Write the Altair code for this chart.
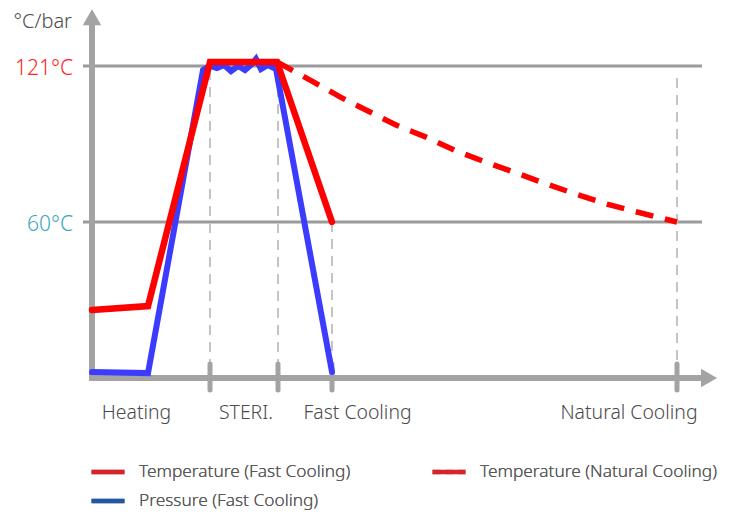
import altair as alt
import pandas as pd

# ---------------- data (time in arbitrary units, value in °C / bar-scaled) ----------------
phase_names = ["Heating", "STERI.", "Fast Cooling", "Natural Cooling"]
phase_label_t = [4.45, 15.4, 26.55, 53.7]
phase_end_t = [11.8, 18.6, 24.0, 58.5]
phase_guide_top = [119.4, 119.4, 60.0, 116.3]

temp_fast_t = [0.0, 5.6, 11.8, 18.5, 24.0]
temp_fast_v = [25.6, 27.1, 122.6, 122.6, 60.0]

pres_t = [0.0, 5.6, 11.1, 11.8, 12.5, 13.2, 13.9, 14.6, 15.3, 16.0, 16.4, 16.9, 17.6, 18.4, 24.0]
pres_v = [1.3, 0.9, 119.4, 121.0, 120.2, 121.4, 119.0, 121.0, 119.4, 121.8, 123.7, 119.8, 121.4, 119.8, 1.3]

nat_t = [18.5, 22.0, 24.8, 27.6, 30.4, 33.4, 36.4, 39.3, 42.4, 45.4, 48.4, 51.5, 54.5, 58.5]
nat_v = [122.6, 115.1, 108.9, 103.4, 97.9, 93.2, 87.8, 83.5, 79.2, 74.9, 70.9, 67.0, 63.9, 60.0]

levels = [121, 60]
level_labels = ["121°C", "60°C"]
level_colors = ["#ff2222", "#3aa6bb"]

# legend entries (laid out column by column)
series_order = ["Temperature (Fast Cooling)", "Pressure (Fast Cooling)", "Temperature (Natural Cooling)"]
legend_colors = ["#d9232a", "#1f56a8", "#d9232a"]
legend_dashes = [[1, 0], [1, 0], [8, 4.5]]

# ---------------- frames ----------------
def series_df(name, ts, vs):
    return pd.DataFrame({"series": name, "t": ts, "v": vs, "o": list(range(len(ts)))})

df_tf = series_df("Temperature (Fast Cooling)", temp_fast_t, temp_fast_v)
df_tn = series_df("Temperature (Natural Cooling)", nat_t, nat_v)
df_p = series_df("Pressure (Fast Cooling)", pres_t, pres_v)

# legend-only carrier: points outside the x domain, clipped away
df_leg = pd.DataFrame({"series": [s for s in series_order for _ in range(2)],
                       "t": [100.0, 101.0] * 3, "v": [0.0, 0.0] * 3})

df_phase = pd.DataFrame({"name": phase_names, "lt": phase_label_t, "t": phase_end_t,
                         "top": phase_guide_top})
df_phase["bottom"] = -1.0
df_phase["tk0"] = 4.5
df_phase["tk1"] = -5.7

df_grid = pd.DataFrame({"v": levels, "label": level_labels, "c": level_colors})
df_grid["t0"] = -0.9
df_grid["t1"] = 61.0

df_xaxis = pd.DataFrame({"t0": [-0.3], "t1": [61.0], "v": [-1.0]})
df_yaxis = pd.DataFrame({"t": [0.0], "v0": [-2.2], "v1": [137.4]})
df_arrow = pd.DataFrame({"t": [0.0, 61.7], "v": [140.1, -1.0], "shape": ["triangle-up", "triangle-right"]})

# ---------------- scales ----------------
xs = alt.Scale(domain=[-8.4, 63.2], nice=False, zero=False)
ys = alt.Scale(domain=[-53.42, 143.68], nice=False, zero=False)

def X(f):
    return alt.X(f, type="quantitative", scale=xs, axis=None)

def Y(f):
    return alt.Y(f, type="quantitative", scale=ys, axis=None)

AXC = "#a3a3a3"
FONT = "Noto Sans"
TXT = "#4a4a4a"

grid = alt.Chart(df_grid).mark_rule(color="#9a9a9a", strokeWidth=3).encode(
    x=X("t0"), x2="t1", y=Y("v"))

guides = alt.Chart(df_phase).mark_rule(color="#c4c4c4", strokeWidth=2, strokeDash=[10, 7]).encode(
    x=X("t"), y=Y("top"), y2="bottom")

xaxis = alt.Chart(df_xaxis).mark_rule(color=AXC, strokeWidth=6).encode(
    x=X("t0"), x2="t1", y=Y("v"))
yaxis = alt.Chart(df_yaxis).mark_rule(color=AXC, strokeWidth=6).encode(
    x=X("t"), y=Y("v0"), y2="v1")
arrows = alt.Chart(df_arrow).mark_point(filled=True, size=340, color=AXC, opacity=1).encode(
    x=X("t"), y=Y("v"), shape=alt.Shape("shape:N", scale=None))
ticks = alt.Chart(df_phase).mark_rule(color=AXC, strokeWidth=5, strokeCap="round").encode(
    x=X("t"), y=Y("tk0"), y2="tk1")

legend = alt.Legend(
    title=None, orient="none", legendX=81, legendY=445, columns=2,
    columnPadding=72, rowPadding=1, symbolType="stroke", symbolSize=1089,
    symbolStrokeWidth=4.5, labelFont=FONT, labelFontSize=17.3, labelFontWeight=300,
    labelColor="#595959", labelOffset=12, labelLimit=400, padding=0, symbolOpacity=1)

leg_layer = alt.Chart(df_leg).mark_line(strokeWidth=4.5, clip=True).encode(
    x=X("t"), y=Y("v"),
    color=alt.Color("series:N", scale=alt.Scale(domain=series_order, range=legend_colors), legend=legend),
    strokeDash=alt.StrokeDash("series:N", scale=alt.Scale(domain=series_order, range=legend_dashes),
                              legend=legend))

pres_line = alt.Chart(df_p).mark_line(color="#3c3cff", strokeWidth=6, strokeCap="round", strokeJoin="miter").encode(
    x=X("t"), y=Y("v"), detail="series:N", order="o:Q")
tf_line = alt.Chart(df_tf).mark_line(color="#ff0000", strokeWidth=6.5, strokeCap="round", strokeJoin="miter").encode(
    x=X("t"), y=Y("v"), detail="series:N", order="o:Q")
tn_line = alt.Chart(df_tn).mark_line(color="#ff0000", strokeWidth=5.5, strokeDash=[18, 12]).encode(
    x=X("t"), y=Y("v"), detail="series:N", order="o:Q")

level_text = alt.Chart(df_grid).mark_text(font=FONT, fontSize=21, fontWeight=300, align="right",
                                          baseline="middle", dy=3).encode(
    x=alt.value(65), y=Y("v"), text="label:N", color=alt.Color("c:N", scale=None))

phase_text = alt.Chart(df_phase).mark_text(font=FONT, fontSize=19.4, fontWeight=300, align="center",
                                           baseline="alphabetic", color=TXT).encode(
    x=X("lt"), y=alt.value(411), text="name:N")

unit_text = alt.Chart(pd.DataFrame({"u": ["°C/bar"]})).mark_text(
    font=FONT, fontSize=20, fontWeight=300, align="right", baseline="alphabetic", color=TXT).encode(
    x=alt.value(64), y=alt.value(20), text="u:N")

chart = alt.layer(
    grid, guides, yaxis, xaxis, arrows, ticks, leg_layer,
    pres_line, tf_line, tn_line,
    level_text, phase_text, unit_text
).properties(
    width=716, height=504, padding=0, autosize=alt.AutoSizeParams(type="none")
).resolve_scale(color="independent").configure_view(stroke="transparent")

chart.save("out.html", embed_options={"renderer": "svg", "actions": False})
